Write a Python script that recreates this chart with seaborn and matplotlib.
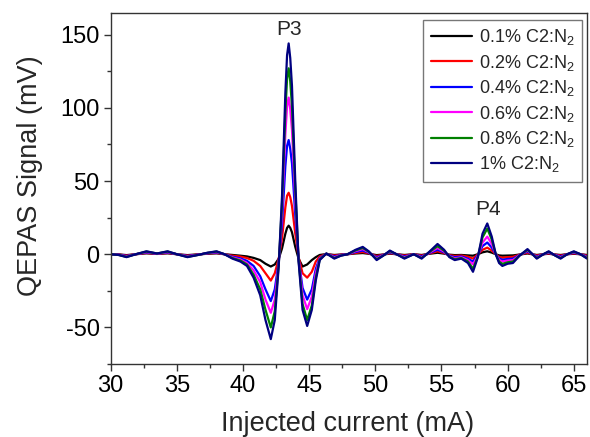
import numpy as np
import pandas as pd
import matplotlib
matplotlib.use("Agg")
import matplotlib.pyplot as plt
import seaborn as sns
from matplotlib.ticker import MultipleLocator

# ---- data ----
current = [30.0, 30.6, 31.2, 31.9, 32.7, 33.5, 34.3, 35.0, 35.8, 36.6, 37.3, 38.0, 38.6,
           39.2, 39.8, 40.3, 40.8, 41.3, 41.7, 42.1, 42.4, 42.7, 42.95, 43.2, 43.33, 43.45,
           43.57, 43.7, 43.95, 44.2, 44.5, 44.85, 45.2, 45.5, 45.8, 46.3,
           46.9, 47.4, 47.9, 48.5, 49.05, 49.5, 50.1, 50.6, 51.1, 51.6, 52.2, 52.9, 53.5,
           54.0, 54.7, 55.2, 55.6, 56.0, 56.5, 57.0, 57.38, 57.75, 58.1, 58.46, 58.8, 59.1,
           59.35, 59.6, 60.0, 60.4, 60.9, 61.5, 62.2, 62.7, 63.1, 63.6, 64.0, 64.5, 65.0,
           65.5, 66.0]

sig_01 = [0, -0.1, -0.6, 0, 0.6, 0.2, 0.6, 0, -0.6, -0.1, 0.3, 0.6, 0,
          -0.5, -1, -1.5, -2.5, -4, -6.5, -8.4, -7, -3, 4, 14, 18, 19.5,
          18, 15, 5, -3, -8.4, -7, -4, -2, -0.5, 0.1,
          -0.5, -0.2, 0, 0.5, 0.8, 0.3, -0.6, -0.2, 0.4, 0, -0.5, 0, -0.5,
          0.2, 1, 0.4, -0.3, -0.6, -0.5, -0.8, -1, 0, 1.3, 2, 1.1, 0,
          -0.8, -1, -0.9, -0.8, -0.2, 0.5, -0.5, 0, 0.3, -0.2, -0.5, 0, 0.3,
          0, -0.5]
sig_02 = [0, -0.2, -0.9, 0, 0.9, 0.2, 0.9, 0, -0.9, -0.2, 0.5, 0.9, 0,
          -1, -1.6, -2.6, -4.5, -8, -13, -18, -13, -3, 11, 32, 40, 42,
          39, 33, 14, -2, -13, -16, -12, -5, -1.5, 0.2,
          -0.9, -0.3, 0, 0.9, 1.5, 0.6, -1.2, -0.3, 0.8, 0, -0.9, 0, -0.9,
          0.3, 2, 0.8, -0.6, -1.2, -0.9, -1.7, -3, 0, 3, 4.5, 2.5, 0,
          -1.8, -2.4, -2, -1.8, -0.3, 1, -0.9, 0, 0.6, -0.3, -0.9, 0, 0.6,
          0, -0.9]
sig_04 = [0, -0.3, -1.2, 0, 1.2, 0.3, 1.2, 0, -1.2, -0.3, 0.6, 1.2, 0,
          -1.7, -2.8, -4.5, -8, -15, -24, -32, -24, -5, 21, 60, 74, 78,
          72, 62, 27, -3, -23, -31, -24, -10, -2.5, 0.3,
          -1.5, -0.5, 0, 1.5, 2.5, 1, -2, -0.5, 1.3, 0, -1.5, 0, -1.5,
          0.5, 3, 1.3, -1, -2, -1.5, -3, -5, -0.5, 5.5, 8, 4.5, 0,
          -2.8, -3.8, -3.2, -3, -0.5, 1.8, -1.5, 0, 1, -0.5, -1.5, 0, 1,
          0, -1.5]
sig_06 = [0, -0.4, -1.5, 0, 1.5, 0.4, 1.5, 0, -1.5, -0.4, 0.8, 1.5, 0,
          -2.2, -3.6, -6, -11, -19, -31, -40, -31, -6, 29, 82, 101, 107,
          99, 85, 37, -3.5, -28, -37.5, -29, -13, -3, 0.4,
          -2.1, -0.7, 0, 2.1, 3.5, 1.4, -2.8, -0.7, 1.8, 0, -2.1, 0, -2.1,
          0.7, 4.2, 1.8, -1.4, -2.8, -2.1, -4, -7, -1, 8, 12, 7, 0,
          -3.8, -5, -4.3, -4, -0.7, 2.5, -2.1, 0, 1.4, -0.7, -2.1, 0, 1.4,
          0, -2.1]
sig_08 = [0, -0.5, -1.8, 0, 1.8, 0.5, 1.8, 0, -1.8, -0.5, 0.9, 1.8, 0,
          -2.6, -4.3, -7, -14, -24, -38, -50, -39, -7, 35, 97, 120, 127,
          118, 101, 44, -4, -34, -45, -35, -16, -3.5, 0.5,
          -2.6, -0.9, 0, 2.6, 4.3, 1.7, -3.4, -0.9, 2.1, 0, -2.6, 0, -2.6,
          0.9, 5.5, 2.4, -1.7, -3.4, -2.6, -5, -10, -1.5, 11.5, 17.5, 10, 0,
          -5, -6.6, -5.5, -5, -0.9, 3, -2.6, 0, 1.7, -0.9, -2.6, 0, 1.7,
          0, -2.6]
sig_1 = [0, -0.5, -2, 0, 2, 0.5, 2, 0, -2, -0.5, 1, 2, 0,
         -3, -5, -8, -16, -28, -45, -58, -45, -8, 40, 110, 136, 144,
         134, 115, 50, -5, -38, -49, -38, -18, -4, 0.5,
         -3, -1, 0, 3, 5, 2, -4, -1, 2.5, 0, -3, 0, -3,
         1, 7, 3, -2, -4, -3, -6, -12, -2, 14, 21, 12, 0,
         -6, -8, -6.5, -6, -1, 3.5, -3, 0, 2, -1, -3, 0, 2,
         0, -3]

series_labels = ["0.1% C2:N$_2$", "0.2% C2:N$_2$", "0.4% C2:N$_2$",
                 "0.6% C2:N$_2$", "0.8% C2:N$_2$", "1% C2:N$_2$"]
series_values = [sig_01, sig_02, sig_04, sig_06, sig_08, sig_1]
colors = ["#000000", "#ff0000", "#0000ff", "#ff00ff", "#008000", "#000080"]

x_ticks = [30, 35, 40, 45, 50, 55, 60, 65]
y_ticks = [-50, 0, 50, 100, 150]

frames = []
for lab, vals in zip(series_labels, series_values):
    frames.append(pd.DataFrame({"current": current, "signal": vals, "series": lab}))
df = pd.concat(frames, ignore_index=True)

sns.set_theme(style="ticks")
plt.rcParams["font.family"] = ["Liberation Sans", "DejaVu Sans"]
plt.rcParams["mathtext.fontset"] = "custom"
plt.rcParams["mathtext.rm"] = "Liberation Sans"
plt.rcParams["mathtext.it"] = "Liberation Sans:italic"
plt.rcParams["axes.unicode_minus"] = False

fig = plt.figure(figsize=(5.9, 4.37), dpi=100)
ax = fig.add_axes([0.1876, 0.167, 0.8074, 0.804])

sns.lineplot(data=df, x="current", y="signal", hue="series",
             hue_order=series_labels, palette=colors, sort=False,
             estimator=None, linewidth=1.6, ax=ax)

ax.set_xlim(30, 66)
ax.set_ylim(-75, 165)
ax.set_xticks(x_ticks)
ax.set_yticks(y_ticks)
ax.xaxis.set_minor_locator(MultipleLocator(2.5))
ax.yaxis.set_minor_locator(MultipleLocator(25))
ax.tick_params(axis="both", which="major", direction="out", length=5, width=1,
               labelsize=17, colors="#333333", labelcolor="black", pad=3)
ax.tick_params(axis="both", which="minor", direction="out", length=3, width=1,
               colors="#333333")
for s in ax.spines.values():
    s.set_visible(True)
    s.set_color("#333333")
    s.set_linewidth(1.0)

ax.set_xlabel("Injected current (mA)", fontsize=19.5)
ax.set_ylabel("QEPAS Signal (mV)", fontsize=19.5)
ax.xaxis.set_label_coords(0.498, -0.134)
ax.yaxis.set_label_coords(-0.142, 0.535)

ax.text(43.45, 147, "P3", fontsize=15, ha="center", va="bottom")
ax.text(58.5, 24, "P4", fontsize=15, ha="center", va="bottom")

leg = ax.legend(loc="upper right", bbox_to_anchor=(0.99, 0.979), fontsize=13,
                frameon=True, fancybox=False, handlelength=2.3, handletextpad=0.4,
                labelspacing=0.3, borderpad=0.4, borderaxespad=0)
leg.get_frame().set_edgecolor("#555555")
leg.get_frame().set_linewidth(1.0)
leg.set_title(None)

fig.savefig("out.png", dpi=100)
